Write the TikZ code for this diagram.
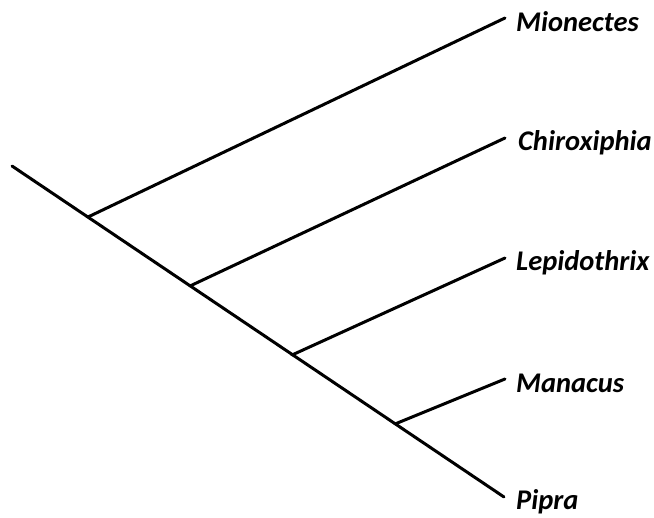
\documentclass[tikz,border=0pt]{standalone}
\usepackage{fontspec}
\setmainfont{Carlito}
\begin{document}
\begin{tikzpicture}[x=1pt,y=-1pt,
  br/.style={line width=3pt,line cap=round},
  lab/.style={anchor=west,font=\bfseries\itshape\fontsize{28.5}{31}\selectfont,inner sep=0pt}]
\useasboundingbox (0,0) rectangle (654,518);
\coordinate (root) at (12,166);
\coordinate (j1) at (88,217);
\coordinate (j2) at (190,286);
\coordinate (j3) at (292,355);
\coordinate (j4) at (395,424);
\coordinate (t5) at (504,497);
\coordinate (t1) at (505,18);
\coordinate (t2) at (505,138);
\coordinate (t3) at (505,258);
\coordinate (t4) at (505,379);
\draw[br] (root) -- (t5);
\draw[br] (j1) -- (t1);
\draw[br] (j2) -- (t2);
\draw[br] (j3) -- (t3);
\draw[br] (j4) -- (t4);
\node[lab] (n1) at (516,22) {Mionectes};
\node[lab] (n2) at (518,143) {Chiroxiphia};
\node[lab] (n3) at (516,263) {Lepidothrix};
\node[lab] (n4) at (516,383) {Manacus};
\node[lab] (n5) at (516,502) {Pipra};
\end{tikzpicture}
\end{document}
